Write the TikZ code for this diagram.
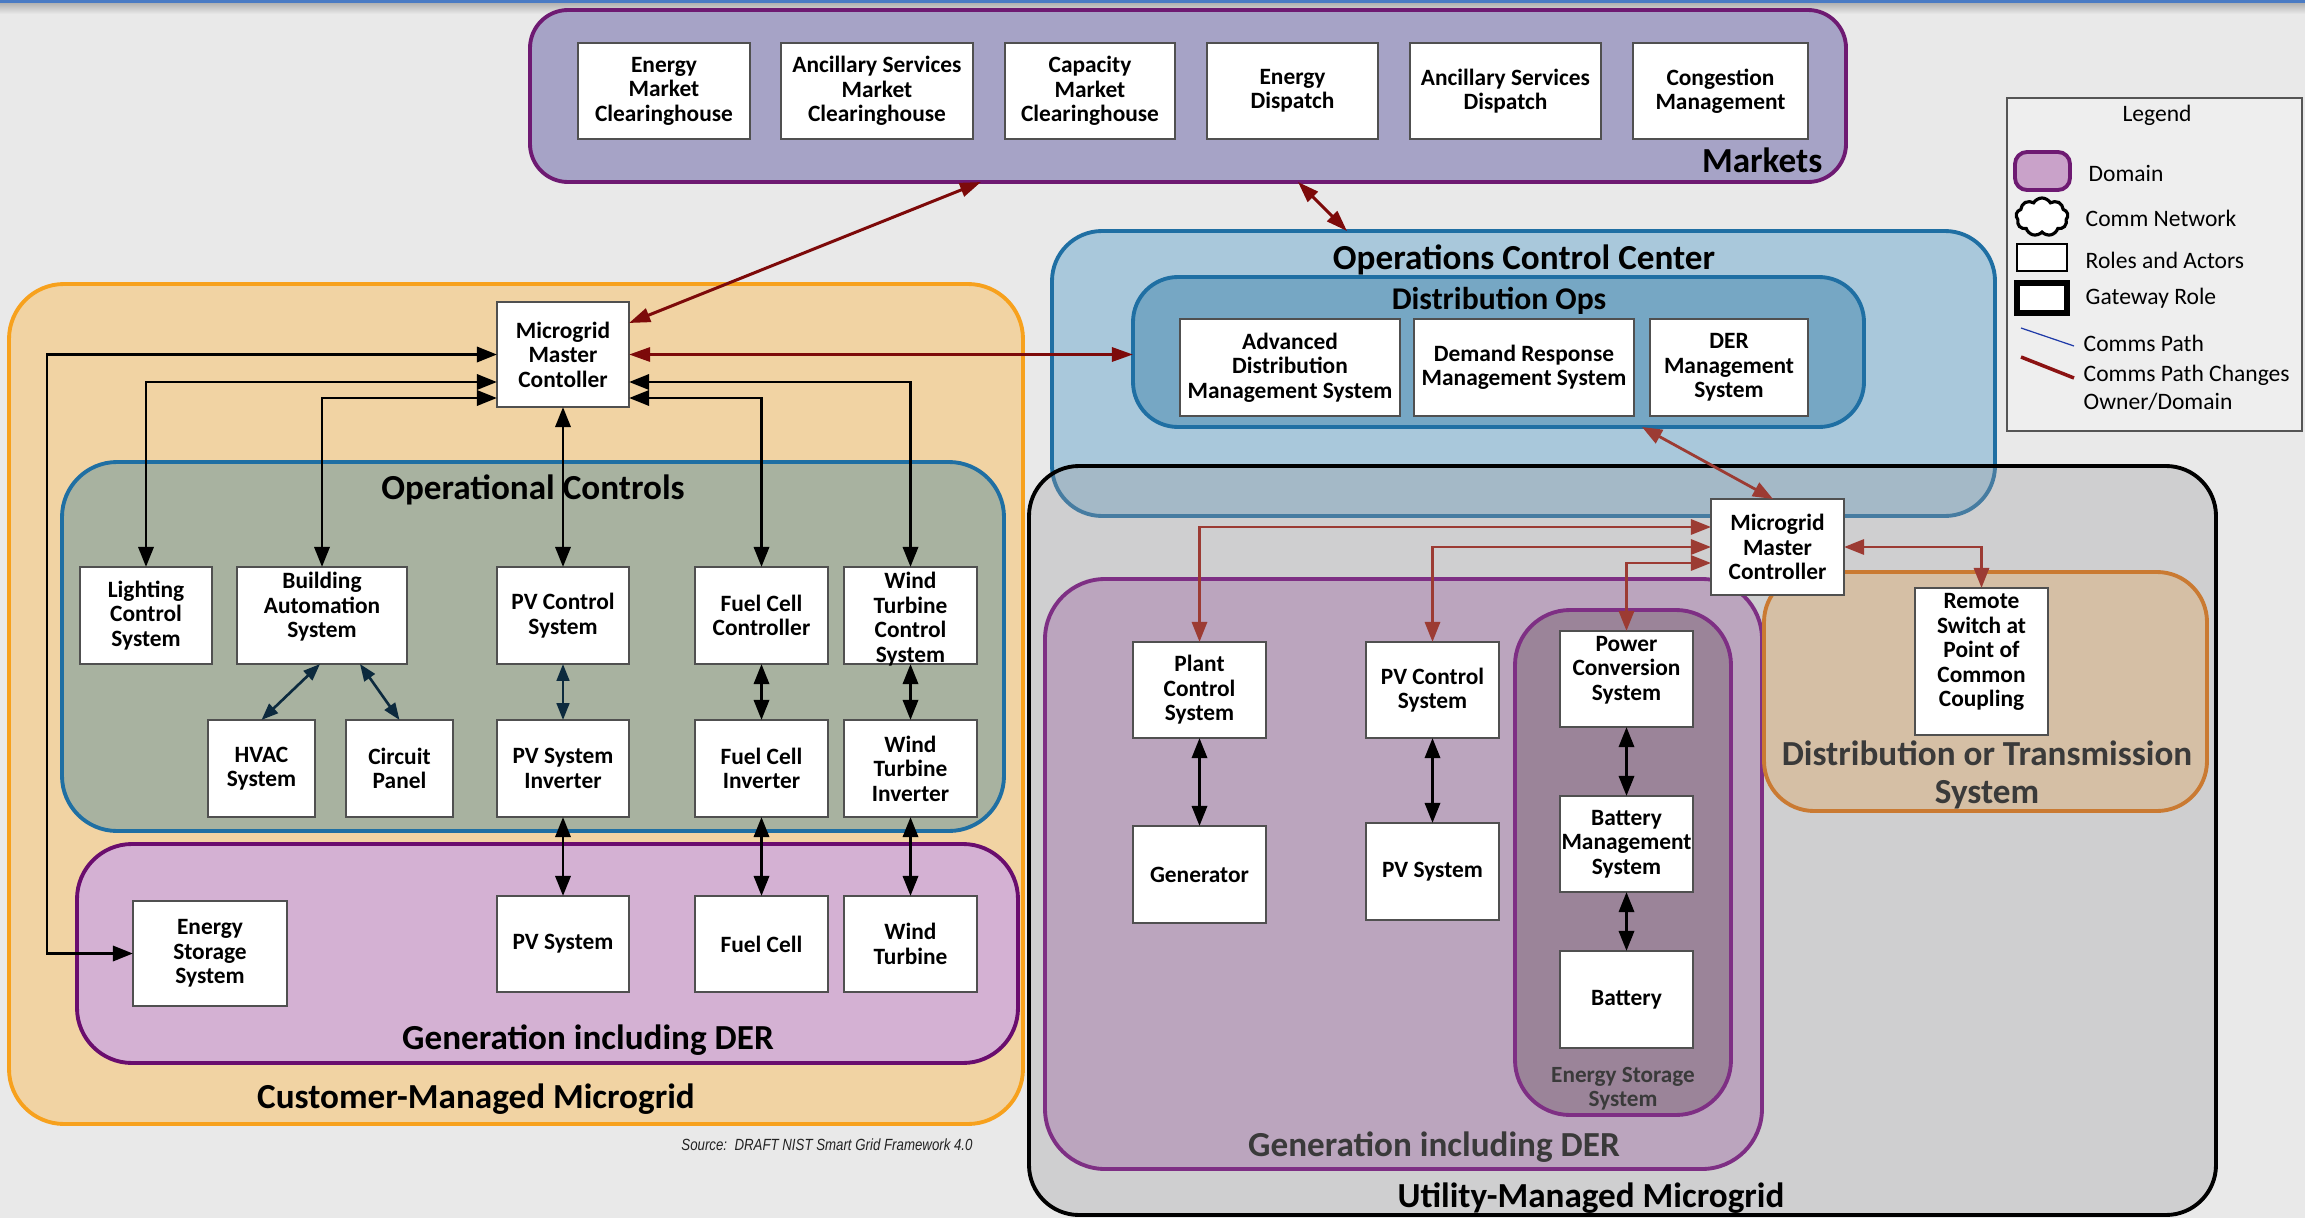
\documentclass[tikz,border=0pt]{standalone}
\usepackage{fontspec}
\setmainfont{Carlito}
\newfontfamily\srcfamily[FakeStretch=0.82]{Liberation Sans}
\usetikzlibrary{arrows.meta,shapes.symbols,fit}

\definecolor{bg}{HTML}{E9E9E9}
\definecolor{topblue}{HTML}{4A7BC4}
\definecolor{mktf}{HTML}{A6A3C6}
\definecolor{mktb}{HTML}{6E1A72}
\definecolor{custf}{HTML}{F1D3A3}
\definecolor{custb}{HTML}{F7A11D}
\definecolor{opsf}{HTML}{A8B2A0}
\definecolor{opsb}{HTML}{1F6FA3}
\definecolor{genf}{HTML}{D4B1D3}
\definecolor{genb}{HTML}{6A0D6E}
\definecolor{occf}{HTML}{A9C8DB}
\definecolor{dopsf}{HTML}{76A7C4}
\definecolor{utilf}{HTML}{9A9A9E}
\definecolor{genRf}{HTML}{BBA5BE}
\definecolor{genRb}{HTML}{7E2F84}
\definecolor{essf}{HTML}{9B8499}
\definecolor{dtf}{HTML}{D5BFA5}
\definecolor{dtb}{HTML}{CA7A32}
\definecolor{boxline}{HTML}{505050}
\definecolor{redL}{HTML}{7D0A0A}
\definecolor{redR}{HTML}{9C3B33}
\definecolor{navyc}{HTML}{0C2A3E}
\definecolor{legb}{HTML}{555555}
\definecolor{legf}{HTML}{EEEEEE}
\definecolor{lblgray}{HTML}{3A3A3A}
\definecolor{srcgray}{HTML}{222222}
\definecolor{legblue}{HTML}{1F3AA8}
\definecolor{legred}{HTML}{8B1212}
\definecolor{legdomf}{HTML}{C9A2C9}

\newcommand\bxf{\fontsize{6.65pt}{6.95pt}\selectfont\bfseries}
\newcommand\bigf{\fontsize{10pt}{10.5pt}\selectfont\bfseries}
\newcommand\midf{\fontsize{9pt}{9.4pt}\selectfont\bfseries}
\newcommand\smf{\fontsize{6.6pt}{6.8pt}\selectfont\bfseries}
\newcommand\legfont{\fontsize{6.7pt}{7.6pt}\selectfont}
\newcommand\srcf{\fontsize{4.6pt}{5pt}\selectfont\srcfamily\itshape}

\begin{document}
\begin{tikzpicture}[x=0.01cm,y=-0.01cm,
  box/.style={draw=boxline, fill=white, line width=0.45pt, inner sep=0pt, outer sep=0pt, align=center, font=\bxf, text=black},
  dom/.style={inner sep=0pt, outer sep=0pt, line width=1.1pt, rounded corners=0.5cm},
  dlabel/.style={font=\bigf, inner sep=0pt, align=center},
  boxtext/.style={font=\bxf, inner sep=0pt, align=center, text=black},
  blk/.style={line width=0.85pt, draw=black, {Triangle[length=5.7pt,width=4.3pt]}-{Triangle[length=5.7pt,width=4.3pt]}},
  navyarr/.style={line width=0.75pt, draw=navyc, {Triangle[length=4.8pt,width=3.6pt]}-{Triangle[length=4.8pt,width=3.6pt]}},
  redLarr/.style={line width=0.85pt, draw=redL, {Triangle[length=6pt,width=4pt]}-{Triangle[length=6pt,width=4pt]}},
  redRarr/.style={line width=0.8pt, draw=redR, {Triangle[length=5.7pt,width=4.3pt]}-{Triangle[length=5.7pt,width=4.3pt]}},
  legtext/.style={font=\legfont, anchor=west, inner sep=0pt}
]
\useasboundingbox (0,0) rectangle (2305,1218);
% background
\fill[bg] (0,0) rectangle (2305,1218);
\shade[top color=gray!60, bottom color=bg] (0,3) rectangle (2305,14);
\fill[topblue] (0,0) rectangle (2305,3);

% ---------- domains ----------
\node[dom, draw=mktb, fill=mktf, rounded corners=0.38cm, fit={(530,10) (1846,182)}] (markets) {};
\node[dom, draw=custb, fill=custf, rounded corners=0.55cm, fit={(9,284) (1023,1124)}] (cust) {};
\node[dom, draw=opsb, fill=opsf, rounded corners=0.55cm, fit={(62,462) (1004,831)}] (opctl) {};
\node[dom, draw=genb, fill=genf, rounded corners=0.55cm, fit={(77,844) (1018,1063)}] (genL) {};
\node[dom, draw=opsb, fill=occf, rounded corners=0.5cm, fit={(1052,231) (1995,516)}] (occ) {};
\node[dom, draw=opsb, fill=dopsf, rounded corners=0.45cm, fit={(1133,277) (1864,427)}] (dops) {};
\node[dom, draw=black, fill=utilf, fill opacity=0.32, rounded corners=0.5cm, fit={(1029,466) (2216,1215)}] (util) {};
\node[dom, draw=genRb, fill=genRf, rounded corners=0.6cm, fit={(1045,579) (1762,1169)}] (genR) {};
\node[dom, draw=genRb, fill=essf, rounded corners=0.55cm, fit={(1515,610) (1731,1115)}] (essD) {};
\node[dom, draw=dtb, fill=dtf, rounded corners=0.5cm, fit={(1764,572) (2207,811)}] (dtrans) {};

% ---------- domain labels ----------
\node[dlabel, anchor=east] (lmkt) at (1823,160) {Markets};
\node[dlabel] (lopc) at (533,490) {Operational Controls};
\node[dlabel] (lgenL) at (588,1040) {Generation including DER};
\node[dlabel] (lcust) at (476,1099) {Customer-Managed Microgrid};
\node[dlabel] (locc) at (1524,260) {Operations Control Center};
\node[dlabel, font=\midf] (ldops) at (1499,301) {Distribution Ops};
\node[dlabel] (lutil) at (1591,1198) {Utility-Managed Microgrid};
\node[dlabel, text=lblgray] (lgenR) at (1434,1147) {Generation including DER};
\node[dlabel, text=lblgray, font=\smf] (less) at (1623,1089) {Energy Storage\\System};
\node[dlabel, text=lblgray, font=\fontsize{10pt}{10.6pt}\selectfont\bfseries] (ldt) at (1987,775) {Distribution or Transmission\\System};

% ---------- legend ----------
\node[draw=legb, fill=legf, line width=0.4pt, inner sep=0pt, fit={(2007,98) (2302,431)}] (legend) {};
\node[font=\legfont, inner sep=0pt] (legtitle) at (2157,115) {Legend};
\draw[draw=mktb, fill=legdomf, line width=1.1pt, rounded corners=0.12cm] (2015,152) rectangle (2070,190);
\node[cloud, cloud puffs=9, cloud puff arc=120, draw=black, fill=white, line width=0.9pt, minimum width=0.52cm, minimum height=0.38cm, inner sep=0pt] (legcloud) at (2042,217) {};
\draw[draw=black, fill=white, line width=0.5pt] (2017,244) rectangle (2067,271);
\draw[draw=black, fill=white, line width=1.5pt] (2017,283) rectangle (2067,313);
\draw[legblue, line width=0.35pt] (2021,328) -- (2074,346);
\draw[legred, line width=1pt] (2021,357) -- (2074,378);
\node[legtext] (lt1) at (2088,173) {Domain};
\node[legtext] (lt2) at (2085,218) {Comm Network};
\node[legtext] (lt3) at (2085,260) {Roles and Actors};
\node[legtext] (lt4) at (2085,298) {Gateway Role};
\node[legtext] (lt5) at (2083,343) {Comms Path};
\node[legtext] (lt6) at (2083,375) {Comms Path Changes};
\node[legtext] (lt7) at (2083,402) {Owner/Domain};

% ---------- market boxes ----------
\node[box, minimum width=1.72cm, minimum height=0.96cm] (m1) at (664,91) {Energy\\Market\\Clearinghouse};
\node[box, minimum width=1.92cm, minimum height=0.96cm] (m2) at (877,91) {Ancillary Services\\Market\\Clearinghouse};
\node[box, minimum width=1.70cm, minimum height=0.96cm] (m3) at (1090,91) {Capacity\\Market\\Clearinghouse};
\node[box, minimum width=1.71cm, minimum height=0.96cm] (m4) at (1292.5,91) {Energy\\Dispatch};
\node[box, minimum width=1.91cm, minimum height=0.96cm] (m5) at (1505.5,91) {Ancillary Services\\Dispatch};
\node[box, minimum width=1.75cm, minimum height=0.96cm] (m6) at (1720.5,91) {Congestion\\Management};

% ---------- customer-managed microgrid ----------
\node[box, minimum width=1.32cm, minimum height=1.05cm] (mmcL) at (563,354.5) {Microgrid\\Master\\Contoller};
\node[box, minimum width=1.32cm, minimum height=0.97cm] (light) at (146,615.5) {Lighting\\Control\\System};
\node[box, minimum width=1.70cm, minimum height=0.97cm] (bas) at (322,615.5) {};
\node[boxtext] (bastext) at (322,607) {Building\\Automation\\System};
\node[box, minimum width=1.32cm, minimum height=0.97cm] (pvcL) at (563,615.5) {PV Control\\System};
\node[box, minimum width=1.33cm, minimum height=0.97cm] (fcc) at (761.5,615.5) {Fuel Cell\\Controller};
\node[box, minimum width=1.33cm, minimum height=0.97cm] (wtc) at (910.5,615.5) {};
\node[boxtext] (wtctext) at (910.5,619) {Wind\\Turbine\\Control\\System};
\node[box, minimum width=1.07cm, minimum height=0.97cm] (hvac) at (261.5,768.5) {HVAC\\System};
\node[box, minimum width=1.07cm, minimum height=0.97cm] (circ) at (399.5,768.5) {Circuit\\Panel};
\node[box, minimum width=1.32cm, minimum height=0.97cm] (pvinv) at (563,768.5) {PV System\\Inverter};
\node[box, minimum width=1.33cm, minimum height=0.97cm] (fcinv) at (761.5,768.5) {Fuel Cell\\Inverter};
\node[box, minimum width=1.33cm, minimum height=0.97cm] (wtinv) at (910.5,768.5) {Wind\\Turbine\\Inverter};
\node[box, minimum width=1.54cm, minimum height=1.05cm] (ess) at (210,953.5) {Energy\\Storage\\System};
\node[box, minimum width=1.32cm, minimum height=0.96cm] (pvs) at (563,944) {PV System};
\node[box, minimum width=1.33cm, minimum height=0.96cm] (fc) at (761.5,944) {Fuel Cell};
\node[box, minimum width=1.33cm, minimum height=0.96cm] (wt) at (910.5,944) {Wind\\Turbine};

% ---------- operations ----------
\node[box, minimum width=2.20cm, minimum height=0.97cm] (adms) at (1290,367.5) {Advanced\\Distribution\\Management System};
\node[box, minimum width=2.20cm, minimum height=0.97cm] (drms) at (1524,367.5) {Demand Response\\Management System};
\node[box, minimum width=1.58cm, minimum height=0.97cm] (derms) at (1729,367.5) {DER\\Management\\System};

% ---------- utility-managed microgrid ----------
\node[box, minimum width=1.33cm, minimum height=0.96cm] (plant) at (1199.5,690) {Plant\\Control\\System};
\node[box, minimum width=1.33cm, minimum height=0.97cm] (gen) at (1199.5,874.5) {Generator};
\node[box, minimum width=1.33cm, minimum height=0.96cm] (pvcR) at (1432.5,690) {PV Control\\System};
\node[box, minimum width=1.33cm, minimum height=0.97cm] (pvsR) at (1432.5,871.5) {PV System};
\node[box, minimum width=1.33cm, minimum height=0.96cm] (pcs) at (1626.5,679) {};
\node[boxtext] (pcstext) at (1626.5,670) {Power\\Conversion\\System};
\node[box, minimum width=1.33cm, minimum height=0.96cm] (bms) at (1626.5,844) {Battery\\Management\\System};
\node[box, minimum width=1.33cm, minimum height=0.97cm] (bat) at (1626.5,999.5) {Battery};
\node[box, minimum width=1.33cm, minimum height=1.47cm] (remote) at (1981.5,661.5) {};
\node[boxtext] (remotetext) at (1981.5,652) {Remote\\Switch at\\Point of\\Common\\Coupling};
\node[box, minimum width=1.33cm, minimum height=0.96cm] (mmcR) at (1777.5,547) {Microgrid\\Master\\Controller};

% ---------- connectors: customer side ----------
\draw[blk] (ess.west) -| (47,354.5) -- (mmcL.west);
\draw[blk] (light.north) |- (mmcL.west |- 0,382);
\draw[blk] (bas.north) |- (mmcL.west |- 0,398);
\draw[blk] (pvcL.north) -- (mmcL.south);
\draw[blk] (fcc.north) |- (mmcL.east |- 0,398);
\draw[blk] (wtc.north) |- (mmcL.east |- 0,382);
\draw[navyarr] (bas.south -| 320,0) -- (hvac.north);
\draw[navyarr] (bas.south -| 360,0) -- (circ.north);
\draw[navyarr] (pvcL.south) -- (pvinv.north);
\draw[blk] (fcc.south) -- (fcinv.north);
\draw[blk] (wtc.south) -- (wtinv.north);
\draw[blk] (pvinv.south) -- (pvs.north);
\draw[blk] (fcinv.south) -- (fc.north);
\draw[blk] (wtinv.south) -- (wt.north);

% ---------- connectors: domain changes ----------
\draw[redLarr] (mmcL.east) -- (dops.west |- mmcL.east);
\draw[redLarr] (mmcL.east |- 0,323) -- (markets.south -| 981,0);
\draw[redLarr] (markets.south -| 1298,0) -- (occ.north -| 1347,0);
\draw[redRarr] (dops.south -| 1642,0) -- (mmcR.north -| 1773,0);
\draw[redRarr] (plant.north) |- (mmcR.west |- 0,527);
\draw[redRarr] (pvcR.north) |- (mmcR.west |- 0,547);
\draw[redRarr] (pcs.north) |- (mmcR.west |- 0,563);
\draw[redRarr] (remote.north) |- (mmcR.east |- 0,547);

% ---------- connectors: utility side ----------
\draw[blk] (plant.south) -- (gen.north);
\draw[blk] (pvcR.south) -- (pvsR.north);
\draw[blk] (pcs.south) -- (bms.north);
\draw[blk] (bms.south) -- (bat.north);

% source
\node[font=\srcf, text=srcgray, inner sep=0pt] (src) at (827,1145) {Source:\ \ DRAFT NIST Smart Grid Framework 4.0};
\end{tikzpicture}
\end{document}
